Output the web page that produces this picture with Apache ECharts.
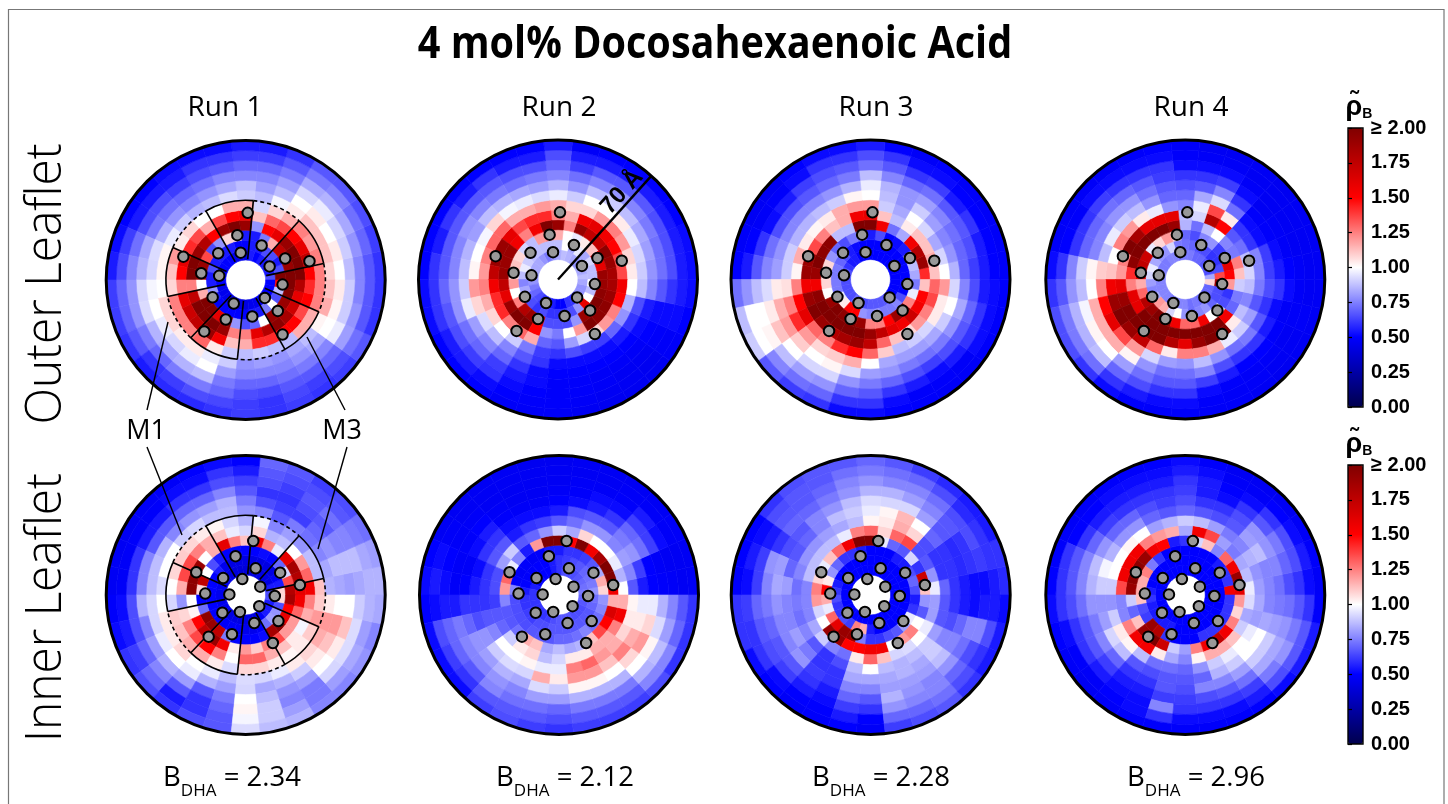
<!DOCTYPE html>
<html>
<head>
<meta charset="utf-8">
<style>html,body{margin:0;padding:0;background:#fff}#c{width:1448px;height:804px}</style>
<script src="https://cdn.jsdelivr.net/npm/echarts@6/dist/echarts.min.js"></script>
</head>
<body>
<div id="c"></div>
<script>
// Each panel: 30 angular bins (12 deg, counter-clockwise from east), each with 12 radial rings (5 A, from 10 A to 70 A).
const ringStart = [10,15,20,25,30,35,40,45,50,55,60,65];
const ringWidth = 5;
const binWidth = 12;
const outerRun1 = [
[.65,2,2,2,1.5,1.25,1.08,1,.87,.76,.67,.6],
[.55,.65,1.9,2,1.75,1.25,1.12,1.04,.9,.79,.7,.62],
[.55,.55,2,2,1.6,1.2,1.12,1,.92,.83,.72,.65],
[.55,.65,1.75,1.9,1.5,1.25,1.12,1.04,.96,.85,.76,.67],
[.55,.65,1.16,1.6,1.36,1.16,1.04,1,.92,.83,.74,.67],
[.5,.55,.74,1.5,1.3,1.08,.98,.87,.81,.74,.67,.6],
[.55,.55,.55,.79,1.12,.92,.87,.81,.76,.7,.62,.55],
[.45,.5,.55,1.9,1.55,1.16,.9,.87,.76,.7,.62,.55],
[.45,.5,1.08,2,1.5,1.16,.93,.83,.76,.67,.6,.52],
[.45,.55,1.08,1.9,1.36,1,.87,.79,.72,.65,.6,.52],
[.5,.55,.79,1.5,1.16,1,.85,.76,.7,.62,.55,.52],
[.5,.55,.65,1.8,1.36,1.08,.9,.79,.72,.65,.55,.5],
[.5,.55,1.36,1.9,1.42,1.04,.96,.85,.74,.65,.55,.5],
[.5,.65,1.9,2,1.6,1.2,1.02,.93,.83,.72,.62,.52],
[.5,.55,1.9,2,1.5,1.12,1.02,.92,.85,.76,.65,.55],
[.5,.55,1,1.25,1.25,1.08,1,.98,.92,.79,.7,.62],
[.45,.79,1.16,1.75,1.6,1.25,1.08,1,.93,.79,.7,.62],
[.45,.55,2,2,1.7,1.25,1.08,.96,.85,.74,.67,.6],
[.45,.5,2,2,1.75,1.25,1.04,.92,.83,.7,.6,.55],
[.42,.5,1.6,2,1.9,1.3,1.04,.96,.85,.74,.62,.58],
[.42,.5,2,1.9,1.55,1.04,.96,1,.87,.74,.65,.58],
[.42,.5,.79,1.25,1.12,.9,.9,.81,.74,.7,.64,.6],
[.42,.5,.65,1.25,1.16,.87,.79,.76,.7,.65,.62,.62],
[.45,.55,.7,1.6,1.42,.9,.81,.76,.7,.64,.6,.6],
[.45,.55,1,1.8,1.42,.87,.79,.76,.72,.67,.64,.62],
[.5,.74,1.9,1.95,1.5,.87,.83,.79,.74,.67,.62,.6],
[.55,1,1.9,1.85,1.5,1.16,.87,.83,.76,.7,.65,.62],
[.5,.65,1.9,1.7,1.36,1.16,1.02,1,.96,.81,.72,.67],
[.5,.87,2,1.6,1.5,1.25,1.16,1.02,.9,.79,.67,.6],
[.5,1.5,2,1.8,1.42,1.25,1.12,1.04,.9,.76,.67,.6]];
const outerRun2 = [
[.87,.87,1.9,1.85,1.36,1.04,.9,.79,.72,.65,.55,.52],
[.83,.87,1.6,1.9,1.36,1.08,.92,.81,.72,.65,.55,.52],
[.83,.92,1.5,1.95,1.5,1.2,.96,.83,.74,.65,.55,.5],
[.79,.83,1.12,1.75,1.55,1.25,1.04,.87,.76,.67,.55,.5],
[.83,.96,1.04,1.75,1.6,1.2,1,.9,.79,.67,.55,.5],
[.85,.83,.96,1.9,1.55,1.08,1,.87,.76,.67,.55,.5],
[.87,1,1,1.25,1.16,1.08,.9,.79,.72,.62,.55,.48],
[.83,.87,1.16,1.9,1.25,1.16,.96,.85,.76,.7,.65,.55],
[.79,.87,1.25,2,1.42,1.2,.93,.81,.74,.65,.55,.5],
[.74,.87,1.2,1.55,1.42,1.16,.96,.83,.72,.65,.55,.5],
[.79,.87,.87,1.25,1.36,1.16,.98,.85,.74,.67,.6,.5],
[.83,.87,.92,1.55,1.6,1.3,1.08,.87,.76,.67,.55,.5],
[.83,.9,1.08,1.9,1.9,1.3,.98,.81,.79,.67,.6,.5],
[.83,.96,1.12,1.9,1.9,1.25,1,.85,.76,.67,.55,.5],
[.81,.87,1.08,1.9,1.75,1.2,1.02,.87,.76,.67,.6,.5],
[.79,.76,1.2,1.75,1.55,1.25,1.2,.9,.79,.7,.6,.52],
[.74,.83,1,1.6,1.42,1.16,1.08,.96,.79,.67,.6,.52],
[.7,.7,1.25,1.9,1.42,1.08,.93,.81,.72,.65,.55,.5],
[.65,.65,1.8,2,1.25,1,.87,.76,.7,.62,.55,.5],
[.6,.6,1.9,2,1.3,.9,.76,.7,.62,.6,.52,.5],
[.6,.65,1.6,1.5,1.16,.74,.67,.6,.55,.52,.5,.48],
[.55,.6,.65,.79,.7,.62,.6,.52,.52,.5,.49,.48],
[.5,.6,.65,.74,.67,.6,.52,.5,.49,.49,.49,.48],
[.5,.6,.65,1,.81,.65,.52,.5,.49,.49,.48,.47],
[.6,.65,.79,1.2,.92,.62,.52,.5,.48,.48,.47,.46],
[.6,.79,1.9,2,1.08,.62,.52,.5,.48,.47,.47,.46],
[.65,1.6,2,1.95,1.2,.7,.55,.5,.48,.47,.46,.46],
[.79,1,2,1.95,1.25,.79,.6,.52,.5,.49,.48,.48],
[.79,.87,1.95,1.9,1.5,.85,.65,.55,.52,.52,.52,.5],
[.83,1,1.9,1.85,1.55,1,.87,.76,.67,.6,.55,.52]];
const outerRun3 = [
[.5,.5,.83,1.42,1.12,1,.85,.7,.62,.55,.5,.48],
[.5,.5,.87,1.9,1.16,.92,.79,.7,.65,.55,.5,.48],
[.5,.5,.74,1.8,1.12,.83,.76,.72,.67,.6,.5,.48],
[.5,.5,.55,1.55,1.12,.92,.81,.76,.67,.55,.5,.48],
[.5,.5,.52,.83,1.04,1,.9,.81,.72,.62,.52,.5],
[.5,.5,.5,.72,.87,.83,.79,.79,.7,.6,.52,.48],
[.5,.5,.65,1.55,1.12,.9,.87,.85,.76,.67,.6,.5],
[.5,.5,.55,2,1.6,1.2,1,.96,.87,.72,.65,.55],
[.5,.5,.7,2,1.55,1.2,1.02,.85,.74,.67,.6,.52],
[.5,.52,.74,.87,1.16,1.16,.9,.79,.7,.65,.6,.52],
[.55,.55,.65,.87,1.12,1.04,.87,.76,.67,.62,.52,.5],
[.55,.65,.7,1.95,1.25,1.02,.85,.76,.65,.55,.49,.47],
[.6,.7,.79,1.95,1.36,1.04,.85,.76,.65,.52,.48,.47],
[.65,.74,1.08,2,1.9,1.16,.9,.79,.72,.6,.5,.48],
[.65,.74,1.08,1.9,1.9,1.02,.9,.81,.76,.67,.55,.5],
[.65,.74,1.08,1.55,1.55,1.25,1.06,1.04,.93,.87,.79,.72],
[.65,.74,1,1.95,1.9,1.5,1.25,1.16,1.04,1,1,.87],
[.65,.96,1.9,2,2,1.6,1.42,1.2,1.12,1.02,1,.9],
[.65,1.04,2,2,1.9,1.3,1.2,1.1,1,.87,.76,.67],
[.7,1.5,1.95,2,1.8,1.25,1.08,1,.92,.81,.72,.62],
[.65,1.5,2,2,1.85,1.42,1.1,1.02,.92,.79,.7,.6],
[.65,.79,1.9,2,1.9,1.5,1.16,.93,.79,.7,.6,.52],
[.67,.76,1.25,1.9,1.75,1.3,1,.81,.74,.67,.6,.52],
[.67,.79,1.25,1.75,1.3,1.1,.83,.79,.7,.6,.52,.5],
[.67,.74,1.5,1.6,1.12,.87,.81,.74,.65,.55,.49,.49],
[.67,.74,1.9,1.55,1.08,.9,.81,.72,.62,.52,.49,.48],
[.6,.76,1.9,1.7,1.2,.92,.83,.74,.65,.55,.48,.48],
[.5,.65,1.25,1.55,1.25,1.04,.9,.79,.67,.6,.52,.49],
[.5,.5,.96,1.5,1.36,1.04,1,.83,.7,.6,.52,.49],
[.5,.5,.74,1.12,1.3,1.2,.92,.76,.65,.55,.52,.49]];
const outerRun4 = [
[.83,1.36,1.5,1.12,.92,.76,.62,.55,.5,.48,.47,.47],
[.65,.65,1.6,1.25,.87,.76,.62,.52,.48,.47,.47,.47],
[.67,.6,.65,.74,.72,.6,.52,.49,.48,.47,.47,.47],
[.67,.6,.62,.76,.67,.6,.52,.49,.47,.47,.47,.46],
[.7,.65,.79,1,1.5,1.04,.72,.6,.52,.48,.47,.47],
[.7,.65,.76,.87,1.8,1.36,.93,.76,.62,.52,.48,.47],
[.74,.7,.65,.72,.92,.96,.83,.67,.6,.52,.48,.47],
[.74,.72,.7,.85,.87,.76,.7,.65,.6,.52,.49,.48],
[.74,.74,1.08,1.9,1.6,.79,.7,.67,.62,.6,.52,.5],
[.76,.92,1.2,2,1.6,.96,.79,.72,.67,.6,.52,.49],
[.76,.79,1.08,2,1.6,1.04,.87,.79,.7,.6,.52,.48],
[.74,.79,.96,2,1.85,1.2,.9,.79,.72,.62,.52,.48],
[.74,.83,1.7,2,2,1.25,.96,.76,.7,.6,.49,.48],
[.76,.96,1.75,1.95,1.25,1,.87,.76,.7,.6,.5,.48],
[.76,.92,1.6,1.42,1.2,1.12,1.1,1.02,.9,.76,.6,.52],
[.76,.81,1.16,1.25,1.6,1.55,1.25,1,.87,.79,.67,.6],
[.76,.76,1.3,1.6,1.9,1.9,1.5,1.16,.98,.85,.74,.65],
[.76,.83,1.8,1.6,2,2,1.6,1.16,1.02,.85,.74,.65],
[.76,1.2,1.9,2,2,1.9,1.36,1.16,1,.87,.72,.6],
[.74,1.16,2,2,2,1.75,1.2,1.02,.81,.7,.6,.52],
[.74,.92,1.9,2,2,1.3,.92,.79,.72,.65,.55,.49],
[.76,1,1.55,2,1.8,1.04,.81,.72,.67,.6,.52,.49],
[.76,.79,1.3,2,1.6,1.25,.79,.72,.67,.6,.52,.49],
[.72,.7,1.3,2,1.9,1.25,.87,.76,.62,.52,.49,.48],
[.74,.76,1.55,2,2,1.16,.79,.65,.55,.49,.48,.48],
[.72,.79,1,2,2,.96,.72,.6,.5,.48,.48,.47],
[.72,.7,.96,1.55,1.04,.9,.74,.6,.5,.48,.47,.46],
[.7,.65,.65,.7,.87,.81,.67,.55,.49,.47,.47,.47],
[.7,.65,.6,.74,.76,.67,.6,.52,.48,.48,.48,.47],
[1.08,1.9,1.2,.9,.87,.74,.65,.6,.52,.48,.47,.47]];
const innerRun1 = [
[.65,1.08,1.8,1.6,1.55,1.12,.85,.83,.81,.83,.85,.85],
[.55,.55,1.36,1.8,1.3,.87,.83,.87,.87,.87,.83,.81],
[.42,.48,.92,1.85,1.2,.87,.76,.79,.76,.76,.74,.72],
[.42,.42,.7,1.6,1,.79,.72,.7,.67,.72,.67,.65],
[.42,.42,.5,.96,.87,.81,.74,.62,.65,.67,.65,.62],
[.42,.42,.52,1.25,.85,.76,.67,.62,.6,.62,.65,.67],
[.4,.42,.5,1.55,1.08,.98,.76,.65,.6,.65,.67,.7],
[.4,.42,.5,1.12,.92,.85,.79,.74,.67,.62,.55,.5],
[.4,.42,.5,1.25,.96,.92,.87,.85,.76,.65,.6,.52],
[.4,.42,.5,1.6,1.12,1.02,.87,.81,.7,.6,.52,.5],
[.42,.45,.55,1.16,1.16,1.04,.92,.79,.7,.6,.52,.48],
[.45,.55,.65,1,1.25,1.08,.9,.76,.67,.55,.49,.48],
[.45,.5,1,1.9,1.36,1.1,1,.85,.67,.55,.49,.47],
[.45,.5,1.75,1.95,1.36,1.08,1,.87,.76,.6,.48,.47],
[.45,.5,1.08,1.95,1.16,1,.93,.87,.76,.6,.48,.47],
[.45,.5,.5,1,.79,.92,1,.92,.85,.65,.52,.49],
[.45,.5,.72,1.02,1.08,1.1,1.04,.92,.76,.65,.55,.52],
[.45,.5,1.95,1.5,1.25,1.12,1.04,.96,.81,.7,.62,.6],
[.45,.5,1.9,1.75,1.36,1.16,1.08,1,.85,.76,.7,.65],
[.42,.48,1.75,1.9,1.5,1.16,1,.96,.81,.67,.55,.6],
[.42,.48,.74,1.55,1.25,1.04,.96,.85,.67,.6,.6,.65],
[.42,.48,.5,1.04,1,.93,.87,.81,.74,.7,.67,.67],
[.42,.45,.5,1.2,1.3,1.08,.93,.92,1,1.02,.98,.93],
[.42,.45,.5,1.1,1.3,1.08,.92,.83,.87,.9,.9,.87],
[.42,.48,.52,1.25,1.16,1.04,.96,.85,.79,.76,.81,.85],
[.48,.72,1.85,1.36,1.12,1.02,1.04,.9,.81,.74,.74,.76],
[.55,.81,1.95,1.2,1.04,1.04,1.08,1.04,1,.92,.81,.76],
[.55,.79,1.6,1.2,.98,1.1,1.16,1.12,1.04,.93,.83,.79],
[.55,.65,1.5,1.3,1.16,1.2,1.2,1.2,1.12,.93,.81,.76],
[.65,1.08,1.85,1.55,1.25,1.1,1.04,1,1,.9,.85,.83]];
const innerRun2 = [
[.74,.79,1.08,1.55,1,.67,.55,.5,.49,.48,.47,.47],
[.72,.74,1.16,2,.85,.76,.62,.5,.48,.47,.47,.47],
[.7,.72,.83,2,.96,.81,.79,.72,.62,.52,.48,.48],
[.67,.7,.67,1.85,1,.76,.74,.7,.62,.55,.48,.47],
[.65,.67,.62,1.55,1,.79,.67,.6,.52,.49,.48,.47],
[.65,.65,.6,2,1.08,.79,.67,.55,.52,.48,.47,.47],
[.65,.62,.6,1.5,.83,.72,.65,.52,.49,.48,.47,.47],
[.6,.6,.55,2,.9,.67,.55,.5,.48,.47,.47,.46],
[.55,.55,.55,2,.79,.62,.52,.48,.47,.47,.47,.46],
[.5,.5,.49,1.2,.7,.6,.52,.48,.47,.47,.47,.47],
[.5,.5,.48,.55,.67,.55,.52,.49,.48,.47,.47,.47],
[.5,.49,.49,.76,.9,.67,.6,.55,.5,.48,.47,.47],
[.5,.49,.48,.96,.81,.67,.6,.52,.49,.48,.48,.47],
[.55,.5,.49,1.3,.65,.6,.52,.48,.48,.5,.52,.5],
[.6,.55,.76,1.2,.65,.6,.55,.5,.48,.52,.55,.52],
[.6,.6,.65,.76,.62,.6,.6,.6,.55,.55,.52,.5],
[.6,.6,.65,.67,.67,.67,.65,.7,.74,.7,.65,.52],
[.6,.62,.65,.67,.7,.76,.79,.79,.76,.7,.62,.52],
[.6,.62,.65,.72,.9,1,.9,.81,.76,.67,.6,.52],
[.6,.65,.67,1.16,1.04,1,.93,.85,.79,.76,.67,.62],
[.62,.65,.67,1.12,1.08,1.02,.92,.83,.76,.72,.67,.65],
[.65,.67,.67,.83,.87,.96,1.16,.93,.81,.72,.67,.62],
[.67,.67,.7,.87,.92,.96,1.04,.9,.81,.7,.65,.6],
[.67,.67,.7,.83,1.04,1.25,1.2,1.02,.85,.74,.67,.62],
[.67,.67,.72,.85,1.04,1.3,1.2,1.02,.85,.74,.67,.62],
[.65,.67,.76,1.12,1.16,1.2,1.12,1,.85,.74,.67,.62],
[.65,.67,.72,1.36,1.16,1.16,1.25,1.08,1,.85,.76,.65],
[.65,.67,.72,1.5,1.25,1.08,1.16,1.2,1.02,.87,.76,.6],
[.67,.7,.76,1.65,1.55,1.04,1.04,1.08,.93,.81,.7,.6],
[.7,.72,.79,1.16,1.16,1.02,.96,.96,.85,.76,.67,.6]];
const innerRun3 = [
[.5,.5,.65,1.12,.96,.7,.6,.55,.52,.52,.55,.58],
[.5,.5,.7,1.7,.79,.6,.6,.58,.6,.62,.6,.6],
[.5,.5,.65,.6,.67,.6,.6,.58,.6,.65,.6,.55],
[.5,.5,.55,.92,.65,.65,.7,.67,.67,.65,.58,.55],
[.5,.5,.55,.67,1.36,1.08,1,.81,.76,.72,.65,.58],
[.5,.5,.5,.7,1.3,1.16,1.14,.92,.81,.76,.7,.62],
[.5,.5,.5,.96,1.08,1.04,1.02,.92,.85,.76,.72,.67],
[.5,.5,.5,2,1.3,1.02,.96,.93,.85,.79,.74,.7],
[.5,.5,.55,2,1.25,.87,.9,.87,.79,.76,.72,.67],
[.5,.5,.6,1.55,.96,.83,.87,.79,.74,.7,.67,.67],
[.5,.5,.6,1.3,.87,.81,.76,.76,.7,.67,.67,.65],
[.5,.5,.7,1.12,.87,.79,.7,.67,.7,.67,.65,.6],
[.5,.5,.79,.96,.87,.79,.67,.65,.6,.55,.52,.5],
[.5,.55,1.04,1.08,.87,.76,.7,.81,.79,.62,.55,.5],
[.5,.6,1.5,1.25,.76,.72,.81,.83,.76,.62,.52,.49],
[.5,.65,1.16,1.2,.76,.74,.76,.79,.74,.7,.62,.6],
[.5,.6,.96,.92,.76,.72,.76,.76,.7,.67,.6,.6],
[.5,.6,1.3,1,.83,.76,.81,.76,.67,.65,.6,.52],
[.5,.65,1.6,1.9,.9,.67,.74,.79,.67,.62,.52,.5],
[.5,.62,1.9,1.9,.76,.6,.6,.62,.6,.55,.5,.48],
[.5,1.25,1.9,1.5,.72,.65,.6,.6,.55,.52,.5,.49],
[.5,1.16,.74,1.5,1.04,.87,.83,.76,.7,.62,.55,.5],
[.5,.55,.6,1.55,1.3,1,.83,.76,.67,.6,.5,.48],
[.5,.5,.6,1.55,1.12,.87,.83,.81,.85,.79,.7,.62],
[.5,.5,.65,1,.92,.85,.85,.81,.79,.76,.7,.65],
[.5,.5,.67,1.2,.93,.87,.83,.81,.76,.76,.72,.67],
[.5,.5,.81,1.25,1,.9,.9,.87,.79,.7,.65,.6],
[.5,.5,.96,1,.96,.81,.76,.76,.72,.65,.6,.55],
[.5,.5,.6,.67,.81,.67,.65,.7,.76,.76,.65,.55],
[.5,.5,.55,.79,.81,.67,.6,.55,.52,.55,.55,.52]];
const innerRun4 = [
[.5,.5,1.55,1.6,.96,.81,.76,.72,.65,.6,.52,.48],
[.5,.5,.6,1.9,.87,.79,.76,.76,.7,.65,.55,.49],
[.5,.5,.6,1.55,.83,.85,.87,.79,.74,.65,.52,.48],
[.5,.5,.55,1.3,.74,.76,.81,.79,.67,.6,.5,.47],
[.5,.5,.5,.76,.81,.74,.67,.65,.6,.52,.48,.47],
[.5,.5,.5,1.12,1.36,.81,.65,.6,.52,.5,.48,.47],
[.5,.5,.5,.92,1.55,.87,.67,.6,.55,.55,.52,.49],
[.5,.5,.5,.6,.83,.9,.7,.65,.62,.6,.55,.52],
[.5,.5,.5,.55,1.16,.85,.67,.62,.6,.55,.52,.5],
[.5,.5,.5,1.5,1.2,.81,.7,.65,.6,.55,.52,.49],
[.5,.5,.6,1.55,1.25,1,.79,.7,.6,.55,.52,.49],
[.5,.5,.74,1.9,1.55,1.02,.79,.7,.62,.55,.5,.48],
[.5,.5,1.25,1.95,1.55,1,.85,.79,.7,.6,.5,.48],
[.5,.5,1.16,1.95,1.55,1,.98,.87,.76,.67,.6,.49],
[.5,.55,1.16,1.9,1.36,.9,.9,.85,.76,.67,.6,.5],
[.5,.6,1.12,.9,.76,.79,.79,.79,.72,.65,.6,.52],
[.5,.55,.65,.7,.76,.9,.81,.74,.67,.6,.52,.5],
[.5,.55,.62,1.12,1.25,1.04,.92,.76,.67,.6,.49,.48],
[.5,.55,1.9,1.9,1.55,1.02,.87,.7,.62,.55,.48,.47],
[.5,.55,1.8,2,1.55,.87,.67,.6,.55,.52,.5,.48],
[.5,.55,.6,1.7,1.04,.72,.65,.6,.55,.52,.52,.49],
[.5,.5,.5,.9,.83,.72,.67,.67,.62,.76,.6,.49],
[.5,.5,.5,.81,.76,.7,.67,.65,.62,.6,.52,.49],
[.48,.5,.5,1.25,1.02,.79,.7,.76,.65,.6,.52,.49],
[.48,.5,.6,1.55,1.16,.9,.85,.76,.67,.6,.52,.49],
[.5,.5,.6,1.75,1.16,.96,.9,.81,.72,.62,.55,.5],
[.5,.5,.6,1.55,1.12,1,1,.9,.83,.74,.65,.52],
[.5,.5,.6,1.25,.9,.96,1,.9,.83,.79,.67,.55],
[.5,.5,.6,1.08,.83,.81,.83,.81,.79,.74,.67,.55],
[.5,.5,.6,1.2,.93,.83,.76,.74,.72,.67,.6,.49]];
// Gray protein markers, east/north offsets from the pore axis in angstrom.
const outerDots = [[1,33.7],[-4.2,22.5],[-2.5,13.7],[8,17.3],[19.8,10.8],[32,9.4],[12,6.8],[18.5,-2.3],[9.6,-9],[16.1,-15.5],[18.5,-27.4],[3.3,-18.3],[-6,-11.8],[-10,-19.8],[-20.8,-25.8],[-16.6,-8.7],[-13.3,2.1],[-22.3,3.4],[-31.3,11.7],[-13.8,13.4]];
const innerDots = [[3.8,27.1],[-5.1,19.5],[-1.7,8],[5,13.4],[17.3,11.2],[27.2,5],[7.3,4.2],[14.6,-.5],[6.8,-5.6],[16.4,-13.1],[13.6,-24.1],[4.3,-14.1],[-2.9,-8.5],[-6.9,-19.7],[-18.6,-20.9],[-11.7,-8.9],[-8.2,.3],[-20.3,.7],[-24.8,11.4],[-11.3,8.5]];
// M1..M3 sector boundaries, degrees, alternating solid / dashed arcs at 40 A.
const sectorEdges = [12,48,84.5,120,156,192,226.5,264,299.5,336.5,372];
const sectorRadius = 40;
const sectorInner = 10.5;
const scaleLine = [[0,48],[70,48]];
const runNames = ['Run 1','Run 2','Run 3','Run 4'];
const bindings = ['2.34','2.12','2.28','2.96'];
const barTicks = [0,.25,.5,.75,1,1.25,1.5,1.75,2];

const panels = [
  {d:outerRun1,c:[245.7,280],dots:outerDots,m:true},
  {d:outerRun2,c:[558,279.5],dots:outerDots,s:true},
  {d:outerRun3,c:[870.5,279.5],dots:outerDots},
  {d:outerRun4,c:[1185.3,279.5],dots:outerDots},
  {d:innerRun1,c:[245.7,595],dots:innerDots,m:true},
  {d:innerRun2,c:[559,595],dots:innerDots},
  {d:innerRun3,c:[870.7,595],dots:innerDots},
  {d:innerRun4,c:[1185.3,595],dots:innerDots}
];
const seismic = ['#00004d','#0000ff','#ffffff','#ff0000','#800000'];

function heatItem(params, api) {
  const r0 = api.value(0), a0 = api.value(1);
  const p = api.coord([r0, a0]);
  const q = api.coord([r0 + ringWidth, a0 + binWidth]);
  const color = api.visual('color');
  return {type:'sector', shape:{cx:params.coordSys.cx, cy:params.coordSys.cy, r0:p[2], r:q[2],
    startAngle:-q[3], endAngle:-p[3], clockwise:true},
    style:{fill:color, stroke:color, lineWidth:.6}};
}
function sectorItem(params, api) {
  const a0 = api.value(1), a1 = api.value(2), solid = api.value(3);
  const o0 = api.coord([sectorRadius, a0]), o1 = api.coord([sectorRadius, a1]);
  const i0 = api.coord([sectorInner, a0]);
  return {type:'group', children:[
    {type:'line', shape:{x1:i0[0],y1:i0[1],x2:o0[0],y2:o0[1]}, style:{stroke:'#000',lineWidth:1.6}},
    {type:'arc', shape:{cx:params.coordSys.cx, cy:params.coordSys.cy, r:o0[2], startAngle:-o1[3], endAngle:-o0[3], clockwise:true},
      style:{fill:null, stroke:'#000', lineWidth:1.6, lineDash: solid ? null : [4,3]}}
  ]};
}

const polar=[], angleAxis=[], radiusAxis=[], series=[];
panels.forEach((pn,i)=>{
  polar.push({center:pn.c, radius:[0,139.5]});
  radiusAxis.push({polarIndex:i,type:'value',min:0,max:70,show:false});
  angleAxis.push({polarIndex:i,type:'value',min:0,max:360,startAngle:0,clockwise:false,z:6,
    axisLine:{show:true,lineStyle:{color:'#000',width:3}},axisTick:{show:false},axisLabel:{show:false},splitLine:{show:false}});
  const cells=[];
  pn.d.forEach((rays,j)=>rays.forEach((v,k)=>cells.push([ringStart[k],j*binWidth,v])));
  series.push({type:'custom',coordinateSystem:'polar',polarIndex:i,renderItem:heatItem,data:cells,silent:true,z:1,animation:false});
});
const heatTop=[0,1,2,3], heatBottom=[4,5,6,7];
panels.forEach((pn,i)=>{
  if(pn.m){
    const rows=[];
    for(let e=0;e<sectorEdges.length-1;e++) rows.push([sectorRadius,sectorEdges[e],sectorEdges[e+1],e%2===0?1:0]);
    series.push({type:'custom',coordinateSystem:'polar',polarIndex:i,renderItem:sectorItem,data:rows,silent:true,z:2,animation:false});
  }
  if(pn.s){
    series.push({type:'line',coordinateSystem:'polar',polarIndex:i,data:scaleLine,showSymbol:false,silent:true,z:2,animation:false,
      lineStyle:{color:'#000',width:2.4}});
  }
  series.push({type:'scatter',coordinateSystem:'polar',polarIndex:i,silent:true,z:3,animation:false,symbolSize:10.5,
    itemStyle:{color:'#999999',borderColor:'#000',borderWidth:2,opacity:1},
    data:pn.dots.map(p=>[Math.hypot(p[0],p[1]),(Math.atan2(p[1],p[0])*180/Math.PI+360)%360])});
});

function vm(top,idx){return {type:'continuous',min:0,max:2,dimension:2,seriesIndex:idx,calculable:false,show:true,hoverLink:false,
  left:1348,top:top,itemWidth:15,itemHeight:279,padding:0,text:null,inRange:{color:seismic},z:5};}
const barFmt=v=>v===2?'≥ 2.00':v.toFixed(2);
function barGrid(top){return {left:1348,top:top,width:15,height:279,show:true,z:8,backgroundColor:'transparent',borderColor:'#000',borderWidth:1.4};}
function barAxis(g){return {gridIndex:g,type:'value',position:'right',min:0,max:2,interval:barTicks[1],z:8,
  axisLine:{show:false},splitLine:{show:false},axisTick:{show:true,length:4,lineStyle:{color:'#000',width:1.2}},
  axisLabel:{show:true,margin:8,color:'#000',fontFamily:'Liberation Sans',fontWeight:'bold',fontSize:20,formatter:barFmt}};}
function barX(g){return {gridIndex:g,type:'value',min:0,max:1,show:false};}

const T=(x,y,text,size,extra={},sx)=>({type:'text',x,y,z:100,silent:true,scaleX:sx||1,
  style:Object.assign({text,fontSize:size,fontFamily:'Open Sans',fill:'#000',textAlign:'center',verticalAlign:'middle'},extra)});
const L=(x1,y1,x2,y2)=>({type:'line',z:100,silent:true,shape:{x1,y1,x2,y2},style:{stroke:'#000',lineWidth:1.4}});
const runX=[225,559,876,1191], bX=[232,565,881,1196];
const graphic=[
  {type:'rect',z:-1,silent:true,shape:{x:8.5,y:9.5,width:1435.5,height:810},style:{fill:null,stroke:'#777',lineWidth:1.2}},
  T(715,45,'4 mol% Docosahexaenoic Acid',45,{fontWeight:'bold'},.88),
  Object.assign(T(47,284,'Outer Leaflet',50,{fontWeight:300},.955),{rotation:Math.PI/2}),
  Object.assign(T(47,607.5,'Inner Leaflet',50,{fontWeight:300},.955),{rotation:Math.PI/2}),
  T(146,431,'M1',27), T(342,431,'M3',27),
  L(147,410,168,322),L(345,410,307,337),L(147,447,182,535),L(347,447,318,549),
  Object.assign(T(622,192,'70 Å',24,{fontWeight:'bold',fontFamily:'Liberation Sans'}),{rotation:48*Math.PI/180}),
];
runNames.forEach((n,i)=>graphic.push(T(runX[i],108,n,28)));
bindings.forEach((b,i)=>graphic.push(T(bX[i],774,'{b|B}{s|DHA}{b| = '+b+'}',27,{rich:{
  b:{fontFamily:'Open Sans',fontSize:27.5,fill:'#000',verticalAlign:'bottom',lineHeight:36},
  s:{fontFamily:'Open Sans',fontSize:17,fill:'#000',verticalAlign:'bottom',lineHeight:36,padding:[0,0,-8,0]}}})));
[106,443].forEach(y=>graphic.push(T(1359,y,'{a|ρ̃}{b|B}',20,{rich:{
  a:{fontFamily:'Liberation Sans',fontWeight:'bold',fontSize:27,fill:'#000',verticalAlign:'bottom',lineHeight:30},
  b:{fontFamily:'Liberation Sans',fontWeight:'bold',fontSize:14,fill:'#000',verticalAlign:'bottom',lineHeight:26}}})));

const option={animation:false,backgroundColor:'#fff',tooltip:{show:false},
  polar,angleAxis,radiusAxis,
  grid:[barGrid(128),barGrid(465)],
  xAxis:[barX(0),barX(1)],yAxis:[barAxis(0),barAxis(1)],
  visualMap:[vm(128,heatTop),vm(465,heatBottom)],
  graphic:{elements:graphic},series};
const chart=echarts.init(document.getElementById('c'),null,{renderer:'canvas'});
chart.setOption(option);
</script>
</body>
</html>
